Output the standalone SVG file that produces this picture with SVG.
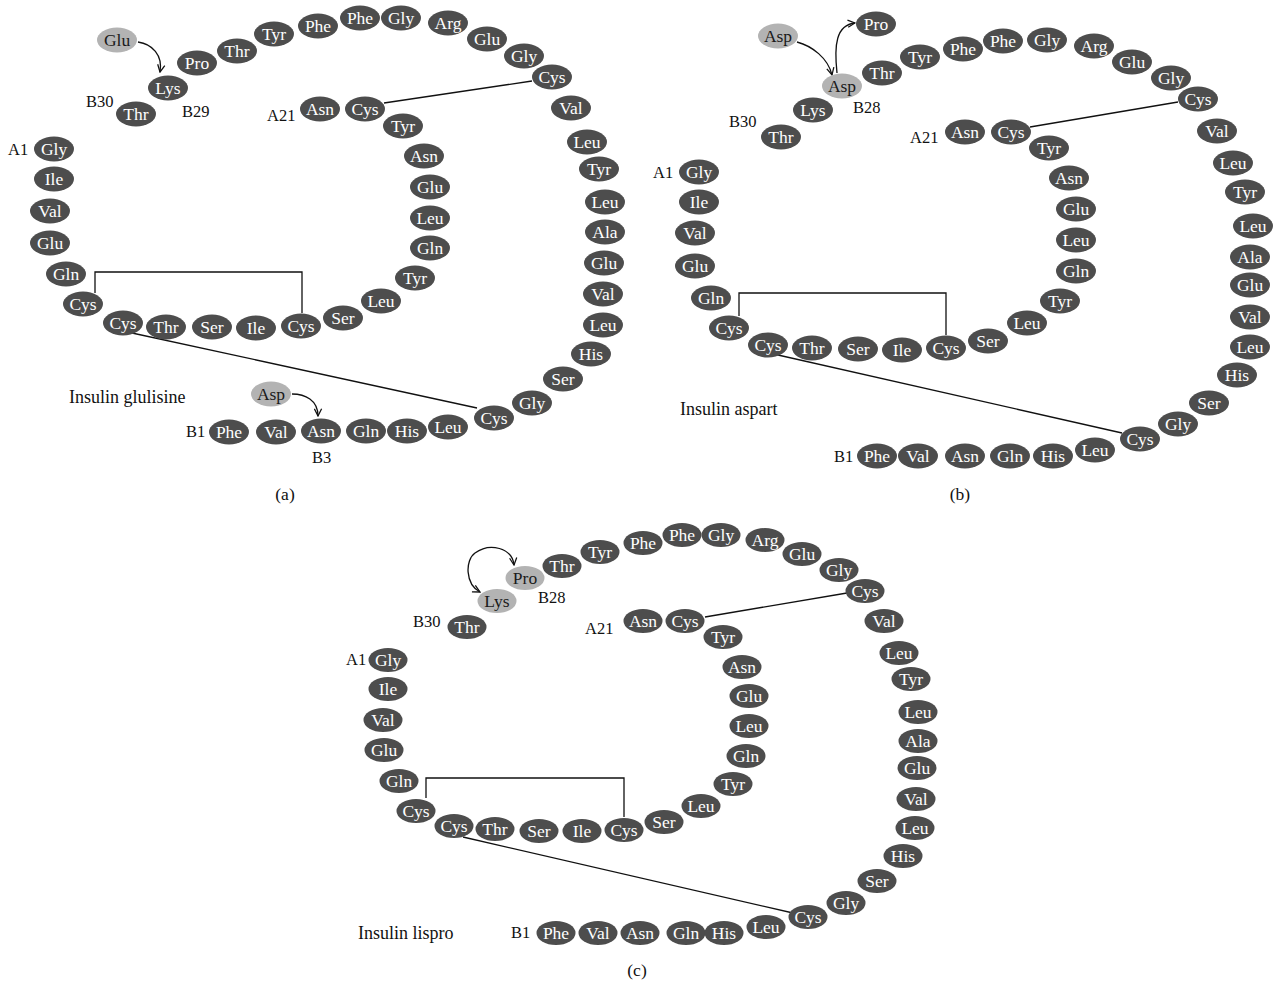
<svg xmlns="http://www.w3.org/2000/svg" width="1275" height="985" viewBox="0 0 1275 985">
<style>
.n ellipse{fill:#4d4d4d}
.n text{fill:#ffffff;font-family:"Liberation Serif",serif;font-size:17.5px;text-anchor:middle}
.h ellipse{fill:#b3b3b3}
.h text{fill:#1a1a1a;font-family:"Liberation Serif",serif;font-size:17.5px;text-anchor:middle}
.lb{fill:#111;font-family:"Liberation Serif",serif;font-size:16.5px}
.ttl{fill:#111;font-family:"Liberation Serif",serif;font-size:18px}
.pl{fill:#111;font-family:"Liberation Serif",serif;font-size:17.5px;text-anchor:middle}
.ss{fill:none;stroke:#111;stroke-width:1.3}
.ar{fill:none;stroke:#111;stroke-width:1.3;marker-end:url(#ah)}
.ar2{fill:none;stroke:#111;stroke-width:1.3;marker-end:url(#ah);marker-start:url(#ahs)}
</style>
<defs>
<marker id="ah" viewBox="0 0 10 10" refX="9" refY="5" markerWidth="9" markerHeight="9" markerUnits="userSpaceOnUse" orient="auto"><path d="M1,1 L9,5 L1,9" fill="none" stroke="#111" stroke-width="1.4"/></marker>
<marker id="ahs" viewBox="0 0 10 10" refX="9" refY="5" markerWidth="9" markerHeight="9" markerUnits="userSpaceOnUse" orient="auto-start-reverse"><path d="M1,1 L9,5 L1,9" fill="none" stroke="#111" stroke-width="1.4"/></marker>
</defs>
<rect width="1275" height="985" fill="#ffffff"/>

<g id="connectors">
<!-- panel a -->
<polyline class="ss" points="95,293 95,272 302,272 302,313"/>
<line class="ss" x1="132" y1="333" x2="477" y2="408"/>
<line class="ss" x1="384" y1="103" x2="532" y2="81"/>
<path class="ar" d="M138,42 C152,44 163,55 160,72"/>
<path class="ar" d="M292,394 C305,394 318,400 318,416"/>
<!-- panel b -->
<polyline class="ss" points="739,316 739,293 946,293 946,335"/>
<line class="ss" x1="778" y1="355" x2="1122" y2="433"/>
<line class="ss" x1="1030" y1="127" x2="1178" y2="102"/>
<path class="ar" d="M797,42 C812,46 828,58 832,75"/>
<path class="ar" d="M837,73 C834,45 836,25 855,23"/>
<!-- panel c -->
<polyline class="ss" points="426,798 426,778 624,778 624,817"/>
<line class="ss" x1="463" y1="837" x2="793" y2="913"/>
<line class="ss" x1="705" y1="617" x2="847" y2="593"/>
<path class="ar2" d="M480,592 C465,584 465,560 475,553 C490,542 512,548 514,565"/>
</g>

<!-- ===== Panel (a) ===== -->
<g id="panel-a">
<g id="a-A1" class="n"><ellipse cx="54" cy="149" rx="20" ry="12.5"/><text x="54" y="155">Gly</text></g>
<g id="a-A2" class="n"><ellipse cx="54" cy="179" rx="20" ry="12.5"/><text x="54" y="185">Ile</text></g>
<g id="a-A3" class="n"><ellipse cx="50" cy="211" rx="20" ry="12.5"/><text x="50" y="217">Val</text></g>
<g id="a-A4" class="n"><ellipse cx="50" cy="243" rx="20" ry="12.5"/><text x="50" y="249">Glu</text></g>
<g id="a-A5" class="n"><ellipse cx="66" cy="274" rx="20" ry="12.5"/><text x="66" y="280">Gln</text></g>
<g id="a-A6" class="n"><ellipse cx="83" cy="304" rx="20" ry="12.5"/><text x="83" y="310">Cys</text></g>
<g id="a-A7" class="n"><ellipse cx="123" cy="323" rx="20" ry="12.5"/><text x="123" y="329">Cys</text></g>
<g id="a-A8" class="n"><ellipse cx="166" cy="327" rx="20" ry="12.5"/><text x="166" y="333">Thr</text></g>
<g id="a-A9" class="n"><ellipse cx="212" cy="327" rx="20" ry="12.5"/><text x="212" y="333">Ser</text></g>
<g id="a-A10" class="n"><ellipse cx="256" cy="328" rx="20" ry="12.5"/><text x="256" y="334">Ile</text></g>
<g id="a-A11" class="n"><ellipse cx="301" cy="326" rx="20" ry="12.5"/><text x="301" y="332">Cys</text></g>
<g id="a-A12" class="n"><ellipse cx="343" cy="318" rx="20" ry="12.5"/><text x="343" y="324">Ser</text></g>
<g id="a-A13" class="n"><ellipse cx="381" cy="301" rx="20" ry="12.5"/><text x="381" y="307">Leu</text></g>
<g id="a-A14" class="n"><ellipse cx="415" cy="278" rx="20" ry="12.5"/><text x="415" y="284">Tyr</text></g>
<g id="a-A15" class="n"><ellipse cx="430" cy="248" rx="20" ry="12.5"/><text x="430" y="254">Gln</text></g>
<g id="a-A16" class="n"><ellipse cx="430" cy="218" rx="20" ry="12.5"/><text x="430" y="224">Leu</text></g>
<g id="a-A17" class="n"><ellipse cx="430" cy="187" rx="20" ry="12.5"/><text x="430" y="193">Glu</text></g>
<g id="a-A18" class="n"><ellipse cx="424" cy="156" rx="20" ry="12.5"/><text x="424" y="162">Asn</text></g>
<g id="a-A19" class="n"><ellipse cx="403" cy="126" rx="20" ry="12.5"/><text x="403" y="132">Tyr</text></g>
<g id="a-A20" class="n"><ellipse cx="365" cy="109" rx="20" ry="12.5"/><text x="365" y="115">Cys</text></g>
<g id="a-A21" class="n"><ellipse cx="320" cy="109" rx="20" ry="12.5"/><text x="320" y="115">Asn</text></g>

<g id="a-B1" class="n"><ellipse cx="229" cy="432" rx="20" ry="12.5"/><text x="229" y="438">Phe</text></g>
<g id="a-B2" class="n"><ellipse cx="276" cy="432" rx="20" ry="12.5"/><text x="276" y="438">Val</text></g>
<g id="a-B3" class="n"><ellipse cx="321" cy="431" rx="20" ry="12.5"/><text x="321" y="437">Asn</text></g>
<g id="a-B4" class="n"><ellipse cx="366" cy="431" rx="20" ry="12.5"/><text x="366" y="437">Gln</text></g>
<g id="a-B5" class="n"><ellipse cx="407" cy="431" rx="20" ry="12.5"/><text x="407" y="437">His</text></g>
<g id="a-B6" class="n"><ellipse cx="448" cy="427" rx="20" ry="12.5"/><text x="448" y="433">Leu</text></g>
<g id="a-B7" class="n"><ellipse cx="494" cy="418" rx="20" ry="12.5"/><text x="494" y="424">Cys</text></g>
<g id="a-B8" class="n"><ellipse cx="532" cy="403" rx="20" ry="12.5"/><text x="532" y="409">Gly</text></g>
<g id="a-B9" class="n"><ellipse cx="563" cy="379" rx="20" ry="12.5"/><text x="563" y="385">Ser</text></g>
<g id="a-B10" class="n"><ellipse cx="591" cy="354" rx="20" ry="12.5"/><text x="591" y="360">His</text></g>
<g id="a-B11" class="n"><ellipse cx="603" cy="325" rx="20" ry="12.5"/><text x="603" y="331">Leu</text></g>
<g id="a-B12" class="n"><ellipse cx="603" cy="294" rx="20" ry="12.5"/><text x="603" y="300">Val</text></g>
<g id="a-B13" class="n"><ellipse cx="604" cy="263" rx="20" ry="12.5"/><text x="604" y="269">Glu</text></g>
<g id="a-B14" class="n"><ellipse cx="605" cy="232" rx="20" ry="12.5"/><text x="605" y="238">Ala</text></g>
<g id="a-B15" class="n"><ellipse cx="605" cy="202" rx="20" ry="12.5"/><text x="605" y="208">Leu</text></g>
<g id="a-B16" class="n"><ellipse cx="599" cy="169" rx="20" ry="12.5"/><text x="599" y="175">Tyr</text></g>
<g id="a-B17" class="n"><ellipse cx="587" cy="142" rx="20" ry="12.5"/><text x="587" y="148">Leu</text></g>
<g id="a-B18" class="n"><ellipse cx="571" cy="108" rx="20" ry="12.5"/><text x="571" y="114">Val</text></g>
<g id="a-B19" class="n"><ellipse cx="552" cy="77" rx="20" ry="12.5"/><text x="552" y="83">Cys</text></g>
<g id="a-B20" class="n"><ellipse cx="524" cy="56" rx="20" ry="12.5"/><text x="524" y="62">Gly</text></g>
<g id="a-B21" class="n"><ellipse cx="487" cy="39" rx="20" ry="12.5"/><text x="487" y="45">Glu</text></g>
<g id="a-B22" class="n"><ellipse cx="448" cy="23" rx="20" ry="12.5"/><text x="448" y="29">Arg</text></g>
<g id="a-B23" class="n"><ellipse cx="401" cy="18" rx="20" ry="12.5"/><text x="401" y="24">Gly</text></g>
<g id="a-B24" class="n"><ellipse cx="360" cy="18" rx="20" ry="12.5"/><text x="360" y="24">Phe</text></g>
<g id="a-B25" class="n"><ellipse cx="318" cy="26" rx="20" ry="12.5"/><text x="318" y="32">Phe</text></g>
<g id="a-B26" class="n"><ellipse cx="274" cy="34" rx="20" ry="12.5"/><text x="274" y="40">Tyr</text></g>
<g id="a-B27" class="n"><ellipse cx="237" cy="51" rx="20" ry="12.5"/><text x="237" y="57">Thr</text></g>
<g id="a-B28" class="n"><ellipse cx="197" cy="63" rx="20" ry="12.5"/><text x="197" y="69">Pro</text></g>
<g id="a-B29" class="n"><ellipse cx="168" cy="88" rx="20" ry="12.5"/><text x="168" y="94">Lys</text></g>
<g id="a-B30" class="n"><ellipse cx="136" cy="114" rx="20" ry="12.5"/><text x="136" y="120">Thr</text></g>
<g id="a-sub-Glu" class="h"><ellipse cx="117" cy="40" rx="20" ry="12.5"/><text x="117" y="46">Glu</text></g>
<g id="a-sub-Asp" class="h"><ellipse cx="271" cy="394" rx="20" ry="12.5"/><text x="271" y="400">Asp</text></g>

<text class="lb" x="86" y="107">B30</text>
<text class="lb" x="182" y="117">B29</text>
<text class="lb" x="267" y="121">A21</text>
<text class="lb" x="8" y="155">A1</text>
<text class="lb" x="186" y="437">B1</text>
<text class="lb" x="312" y="463">B3</text>
<text class="ttl" x="69" y="403">Insulin glulisine</text>
<text class="pl" x="285" y="500">(a)</text>
</g>

<!-- ===== Panel (b) ===== -->
<g id="panel-b">
<g id="b-A1" class="n"><ellipse cx="699" cy="172" rx="20" ry="12.5"/><text x="699" y="178">Gly</text></g>
<g id="b-A2" class="n"><ellipse cx="699" cy="202" rx="20" ry="12.5"/><text x="699" y="208">Ile</text></g>
<g id="b-A3" class="n"><ellipse cx="695" cy="233" rx="20" ry="12.5"/><text x="695" y="239">Val</text></g>
<g id="b-A4" class="n"><ellipse cx="695" cy="266" rx="20" ry="12.5"/><text x="695" y="272">Glu</text></g>
<g id="b-A5" class="n"><ellipse cx="711" cy="298" rx="20" ry="12.5"/><text x="711" y="304">Gln</text></g>
<g id="b-A6" class="n"><ellipse cx="729" cy="328" rx="20" ry="12.5"/><text x="729" y="334">Cys</text></g>
<g id="b-A7" class="n"><ellipse cx="768" cy="345" rx="20" ry="12.5"/><text x="768" y="351">Cys</text></g>
<g id="b-A8" class="n"><ellipse cx="812" cy="348" rx="20" ry="12.5"/><text x="812" y="354">Thr</text></g>
<g id="b-A9" class="n"><ellipse cx="858" cy="349" rx="20" ry="12.5"/><text x="858" y="355">Ser</text></g>
<g id="b-A10" class="n"><ellipse cx="902" cy="350" rx="20" ry="12.5"/><text x="902" y="356">Ile</text></g>
<g id="b-A11" class="n"><ellipse cx="946" cy="348" rx="20" ry="12.5"/><text x="946" y="354">Cys</text></g>
<g id="b-A12" class="n"><ellipse cx="988" cy="341" rx="20" ry="12.5"/><text x="988" y="347">Ser</text></g>
<g id="b-A13" class="n"><ellipse cx="1027" cy="323" rx="20" ry="12.5"/><text x="1027" y="329">Leu</text></g>
<g id="b-A14" class="n"><ellipse cx="1060" cy="301" rx="20" ry="12.5"/><text x="1060" y="307">Tyr</text></g>
<g id="b-A15" class="n"><ellipse cx="1076" cy="271" rx="20" ry="12.5"/><text x="1076" y="277">Gln</text></g>
<g id="b-A16" class="n"><ellipse cx="1076" cy="240" rx="20" ry="12.5"/><text x="1076" y="246">Leu</text></g>
<g id="b-A17" class="n"><ellipse cx="1076" cy="209" rx="20" ry="12.5"/><text x="1076" y="215">Glu</text></g>
<g id="b-A18" class="n"><ellipse cx="1069" cy="178" rx="20" ry="12.5"/><text x="1069" y="184">Asn</text></g>
<g id="b-A19" class="n"><ellipse cx="1049" cy="148" rx="20" ry="12.5"/><text x="1049" y="154">Tyr</text></g>
<g id="b-A20" class="n"><ellipse cx="1011" cy="132" rx="20" ry="12.5"/><text x="1011" y="138">Cys</text></g>
<g id="b-A21" class="n"><ellipse cx="965" cy="132" rx="20" ry="12.5"/><text x="965" y="138">Asn</text></g>

<g id="b-B1" class="n"><ellipse cx="877" cy="456" rx="20" ry="12.5"/><text x="877" y="462">Phe</text></g>
<g id="b-B2" class="n"><ellipse cx="918" cy="456" rx="20" ry="12.5"/><text x="918" y="462">Val</text></g>
<g id="b-B3" class="n"><ellipse cx="965" cy="456" rx="20" ry="12.5"/><text x="965" y="462">Asn</text></g>
<g id="b-B4" class="n"><ellipse cx="1010" cy="456" rx="20" ry="12.5"/><text x="1010" y="462">Gln</text></g>
<g id="b-B5" class="n"><ellipse cx="1053" cy="456" rx="20" ry="12.5"/><text x="1053" y="462">His</text></g>
<g id="b-B6" class="n"><ellipse cx="1095" cy="450" rx="20" ry="12.5"/><text x="1095" y="456">Leu</text></g>
<g id="b-B7" class="n"><ellipse cx="1140" cy="439" rx="20" ry="12.5"/><text x="1140" y="445">Cys</text></g>
<g id="b-B8" class="n"><ellipse cx="1178" cy="424" rx="20" ry="12.5"/><text x="1178" y="430">Gly</text></g>
<g id="b-B9" class="n"><ellipse cx="1209" cy="403" rx="20" ry="12.5"/><text x="1209" y="409">Ser</text></g>
<g id="b-B10" class="n"><ellipse cx="1237" cy="375" rx="20" ry="12.5"/><text x="1237" y="381">His</text></g>
<g id="b-B11" class="n"><ellipse cx="1250" cy="347" rx="20" ry="12.5"/><text x="1250" y="353">Leu</text></g>
<g id="b-B12" class="n"><ellipse cx="1250" cy="317" rx="20" ry="12.5"/><text x="1250" y="323">Val</text></g>
<g id="b-B13" class="n"><ellipse cx="1250" cy="285" rx="20" ry="12.5"/><text x="1250" y="291">Glu</text></g>
<g id="b-B14" class="n"><ellipse cx="1250" cy="257" rx="20" ry="12.5"/><text x="1250" y="263">Ala</text></g>
<g id="b-B15" class="n"><ellipse cx="1253" cy="226" rx="20" ry="12.5"/><text x="1253" y="232">Leu</text></g>
<g id="b-B16" class="n"><ellipse cx="1245" cy="192" rx="20" ry="12.5"/><text x="1245" y="198">Tyr</text></g>
<g id="b-B17" class="n"><ellipse cx="1233" cy="163" rx="20" ry="12.5"/><text x="1233" y="169">Leu</text></g>
<g id="b-B18" class="n"><ellipse cx="1217" cy="131" rx="20" ry="12.5"/><text x="1217" y="137">Val</text></g>
<g id="b-B19" class="n"><ellipse cx="1198" cy="99" rx="20" ry="12.5"/><text x="1198" y="105">Cys</text></g>
<g id="b-B20" class="n"><ellipse cx="1171" cy="78" rx="20" ry="12.5"/><text x="1171" y="84">Gly</text></g>
<g id="b-B21" class="n"><ellipse cx="1132" cy="62" rx="20" ry="12.5"/><text x="1132" y="68">Glu</text></g>
<g id="b-B22" class="n"><ellipse cx="1094" cy="46" rx="20" ry="12.5"/><text x="1094" y="52">Arg</text></g>
<g id="b-B23" class="n"><ellipse cx="1047" cy="40" rx="20" ry="12.5"/><text x="1047" y="46">Gly</text></g>
<g id="b-B24" class="n"><ellipse cx="1003" cy="41" rx="20" ry="12.5"/><text x="1003" y="47">Phe</text></g>
<g id="b-B25" class="n"><ellipse cx="963" cy="49" rx="20" ry="12.5"/><text x="963" y="55">Phe</text></g>
<g id="b-B26" class="n"><ellipse cx="920" cy="57" rx="20" ry="12.5"/><text x="920" y="63">Tyr</text></g>
<g id="b-B27" class="n"><ellipse cx="882" cy="73" rx="20" ry="12.5"/><text x="882" y="79">Thr</text></g>
<g id="b-B28" class="h"><ellipse cx="842" cy="86" rx="20" ry="12.5"/><text x="842" y="92">Asp</text></g>
<g id="b-B29" class="n"><ellipse cx="813" cy="110" rx="20" ry="12.5"/><text x="813" y="116">Lys</text></g>
<g id="b-B30" class="n"><ellipse cx="781" cy="137" rx="20" ry="12.5"/><text x="781" y="143">Thr</text></g>
<g id="b-sub-Asp" class="h"><ellipse cx="778" cy="36" rx="20" ry="12.5"/><text x="778" y="42">Asp</text></g>
<g id="b-orig-Pro" class="n"><ellipse cx="876" cy="24" rx="20" ry="12.5"/><text x="876" y="30">Pro</text></g>

<text class="lb" x="729" y="127">B30</text>
<text class="lb" x="853" y="113">B28</text>
<text class="lb" x="910" y="143">A21</text>
<text class="lb" x="653" y="178">A1</text>
<text class="lb" x="834" y="462">B1</text>
<text class="ttl" x="680" y="415">Insulin aspart</text>
<text class="pl" x="960" y="500">(b)</text>
</g>

<!-- ===== Panel (c) ===== -->
<g id="panel-c">
<g id="c-A1" class="n"><ellipse cx="388" cy="660" rx="19.5" ry="12"/><text x="388" y="666">Gly</text></g>
<g id="c-A2" class="n"><ellipse cx="388" cy="689" rx="19.5" ry="12"/><text x="388" y="695">Ile</text></g>
<g id="c-A3" class="n"><ellipse cx="383" cy="720" rx="19.5" ry="12"/><text x="383" y="726">Val</text></g>
<g id="c-A4" class="n"><ellipse cx="384" cy="750" rx="19.5" ry="12"/><text x="384" y="756">Glu</text></g>
<g id="c-A5" class="n"><ellipse cx="399" cy="781" rx="19.5" ry="12"/><text x="399" y="787">Gln</text></g>
<g id="c-A6" class="n"><ellipse cx="416" cy="811" rx="19.5" ry="12"/><text x="416" y="817">Cys</text></g>
<g id="c-A7" class="n"><ellipse cx="454" cy="826" rx="19.5" ry="12"/><text x="454" y="832">Cys</text></g>
<g id="c-A8" class="n"><ellipse cx="495" cy="829" rx="19.5" ry="12"/><text x="495" y="835">Thr</text></g>
<g id="c-A9" class="n"><ellipse cx="539" cy="831" rx="19.5" ry="12"/><text x="539" y="837">Ser</text></g>
<g id="c-A10" class="n"><ellipse cx="582" cy="831" rx="19.5" ry="12"/><text x="582" y="837">Ile</text></g>
<g id="c-A11" class="n"><ellipse cx="624" cy="830" rx="19.5" ry="12"/><text x="624" y="836">Cys</text></g>
<g id="c-A12" class="n"><ellipse cx="664" cy="822" rx="19.5" ry="12"/><text x="664" y="828">Ser</text></g>
<g id="c-A13" class="n"><ellipse cx="701" cy="806" rx="19.5" ry="12"/><text x="701" y="812">Leu</text></g>
<g id="c-A14" class="n"><ellipse cx="733" cy="784" rx="19.5" ry="12"/><text x="733" y="790">Tyr</text></g>
<g id="c-A15" class="n"><ellipse cx="746" cy="756" rx="19.5" ry="12"/><text x="746" y="762">Gln</text></g>
<g id="c-A16" class="n"><ellipse cx="749" cy="726" rx="19.5" ry="12"/><text x="749" y="732">Leu</text></g>
<g id="c-A17" class="n"><ellipse cx="749" cy="696" rx="19.5" ry="12"/><text x="749" y="702">Glu</text></g>
<g id="c-A18" class="n"><ellipse cx="742" cy="667" rx="19.5" ry="12"/><text x="742" y="673">Asn</text></g>
<g id="c-A19" class="n"><ellipse cx="723" cy="637" rx="19.5" ry="12"/><text x="723" y="643">Tyr</text></g>
<g id="c-A20" class="n"><ellipse cx="685" cy="621" rx="19.5" ry="12"/><text x="685" y="627">Cys</text></g>
<g id="c-A21" class="n"><ellipse cx="643" cy="621" rx="19.5" ry="12"/><text x="643" y="627">Asn</text></g>

<g id="c-B1" class="n"><ellipse cx="556" cy="933" rx="19.5" ry="12"/><text x="556" y="939">Phe</text></g>
<g id="c-B2" class="n"><ellipse cx="598" cy="933" rx="19.5" ry="12"/><text x="598" y="939">Val</text></g>
<g id="c-B3" class="n"><ellipse cx="640" cy="933" rx="19.5" ry="12"/><text x="640" y="939">Asn</text></g>
<g id="c-B4" class="n"><ellipse cx="686" cy="933" rx="19.5" ry="12"/><text x="686" y="939">Gln</text></g>
<g id="c-B5" class="n"><ellipse cx="724" cy="933" rx="19.5" ry="12"/><text x="724" y="939">His</text></g>
<g id="c-B6" class="n"><ellipse cx="766" cy="927" rx="19.5" ry="12"/><text x="766" y="933">Leu</text></g>
<g id="c-B7" class="n"><ellipse cx="808" cy="917" rx="19.5" ry="12"/><text x="808" y="923">Cys</text></g>
<g id="c-B8" class="n"><ellipse cx="846" cy="903" rx="19.5" ry="12"/><text x="846" y="909">Gly</text></g>
<g id="c-B9" class="n"><ellipse cx="877" cy="881" rx="19.5" ry="12"/><text x="877" y="887">Ser</text></g>
<g id="c-B10" class="n"><ellipse cx="903" cy="856" rx="19.5" ry="12"/><text x="903" y="862">His</text></g>
<g id="c-B11" class="n"><ellipse cx="915" cy="828" rx="19.5" ry="12"/><text x="915" y="834">Leu</text></g>
<g id="c-B12" class="n"><ellipse cx="916" cy="799" rx="19.5" ry="12"/><text x="916" y="805">Val</text></g>
<g id="c-B13" class="n"><ellipse cx="917" cy="768" rx="19.5" ry="12"/><text x="917" y="774">Glu</text></g>
<g id="c-B14" class="n"><ellipse cx="918" cy="741" rx="19.5" ry="12"/><text x="918" y="747">Ala</text></g>
<g id="c-B15" class="n"><ellipse cx="918" cy="712" rx="19.5" ry="12"/><text x="918" y="718">Leu</text></g>
<g id="c-B16" class="n"><ellipse cx="911" cy="679" rx="19.5" ry="12"/><text x="911" y="685">Tyr</text></g>
<g id="c-B17" class="n"><ellipse cx="899" cy="653" rx="19.5" ry="12"/><text x="899" y="659">Leu</text></g>
<g id="c-B18" class="n"><ellipse cx="884" cy="621" rx="19.5" ry="12"/><text x="884" y="627">Val</text></g>
<g id="c-B19" class="n"><ellipse cx="865" cy="591" rx="19.5" ry="12"/><text x="865" y="597">Cys</text></g>
<g id="c-B20" class="n"><ellipse cx="839" cy="570" rx="19.5" ry="12"/><text x="839" y="576">Gly</text></g>
<g id="c-B21" class="n"><ellipse cx="802" cy="554" rx="19.5" ry="12"/><text x="802" y="560">Glu</text></g>
<g id="c-B22" class="n"><ellipse cx="765" cy="540" rx="19.5" ry="12"/><text x="765" y="546">Arg</text></g>
<g id="c-B23" class="n"><ellipse cx="721" cy="535" rx="19.5" ry="12"/><text x="721" y="541">Gly</text></g>
<g id="c-B24" class="n"><ellipse cx="682" cy="535" rx="19.5" ry="12"/><text x="682" y="541">Phe</text></g>
<g id="c-B25" class="n"><ellipse cx="643" cy="543" rx="19.5" ry="12"/><text x="643" y="549">Phe</text></g>
<g id="c-B26" class="n"><ellipse cx="600" cy="552" rx="19.5" ry="12"/><text x="600" y="558">Tyr</text></g>
<g id="c-B27" class="n"><ellipse cx="562" cy="566" rx="19.5" ry="12"/><text x="562" y="572">Thr</text></g>
<g id="c-B28" class="h"><ellipse cx="525" cy="578" rx="19.5" ry="12"/><text x="525" y="584">Pro</text></g>
<g id="c-B29" class="h"><ellipse cx="497" cy="601" rx="19.5" ry="12"/><text x="497" y="607">Lys</text></g>
<g id="c-B30" class="n"><ellipse cx="467" cy="627" rx="19.5" ry="12"/><text x="467" y="633">Thr</text></g>

<text class="lb" x="413" y="627">B30</text>
<text class="lb" x="538" y="603">B28</text>
<text class="lb" x="585" y="634">A21</text>
<text class="lb" x="346" y="665">A1</text>
<text class="lb" x="511" y="938">B1</text>
<text class="ttl" x="358" y="939">Insulin lispro</text>
<text class="pl" x="637" y="976">(c)</text>
</g>
</svg>
